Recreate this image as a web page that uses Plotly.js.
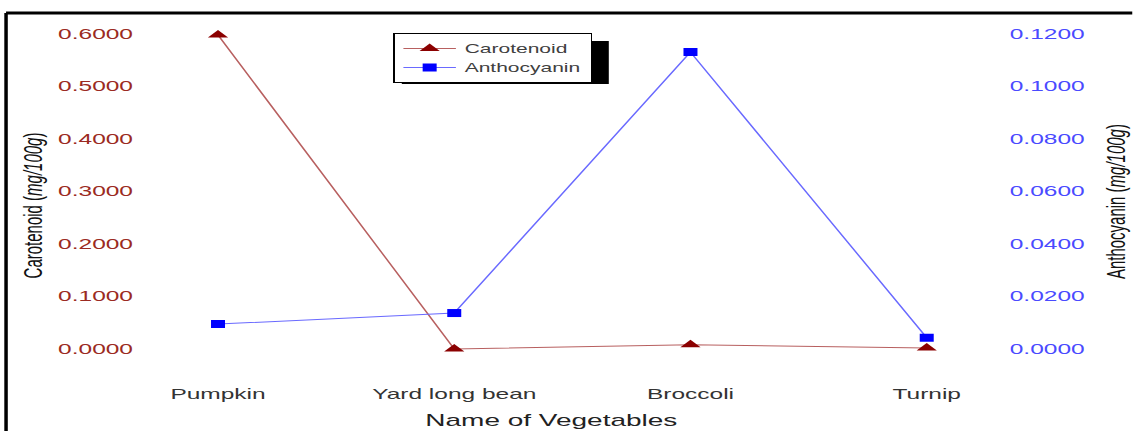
<!DOCTYPE html>
<html>
<head>
<meta charset="utf-8">
<script src="https://cdn.plot.ly/plotly-3.0.1.min.js"></script>
<style>
html,body{margin:0;padding:0;background:#fff;overflow:hidden;width:1133px;height:431px;}
#chart{width:647px;height:431px;transform:scaleX(1.75);transform-origin:0 0;}
</style>
</head>
<body>
<div id="chart"></div>
<script>
const categories = ["Pumpkin", "Yard long bean", "Broccoli", "Turnip"];
const carotenoid = [0.598, 0.000, 0.008, 0.002];
const anthocyanin = [0.0095, 0.0137, 0.1131, 0.0043];
const leftTicks = [0, 0.1, 0.2, 0.3, 0.4, 0.5, 0.6];
const rightTicks = [0, 0.02, 0.04, 0.06, 0.08, 0.10, 0.12];

const xIdx = categories.map((c, i) => i);

const traces = [
  {
    x: xIdx, y: carotenoid, name: "Carotenoid", type: "scatter", mode: "lines+markers",
    line: {color: "#b86060", width: 1},
    marker: {symbol: "triangle-up", size: 10, color: "#8b0000"},
    yaxis: "y"
  },
  {
    x: xIdx, y: anthocyanin, name: "Anthocyanin", type: "scatter", mode: "lines+markers",
    line: {color: "#6a6aff", width: 1},
    marker: {symbol: "square", size: 8, color: "#0000ff"},
    yaxis: "y2"
  }
];

const font = "Liberation Sans, Arial, sans-serif";

const layout = {
  width: 647, height: 431,
  margin: {l: 83, r: 76, t: 20, b: 61},
  paper_bgcolor: "#ffffff", plot_bgcolor: "rgba(0,0,0,0)",
  showlegend: true,
  legend: {
    x: 0.29, y: 0.963, xanchor: "left", yanchor: "top",
    bgcolor: "#ffffff", bordercolor: "#000000", borderwidth: 1,
    font: {family: font, size: 12, color: "#404040"},
    tracegroupgap: 0, itemwidth: 30
  },
  xaxis: {
    range: [-0.308, 3.307],
    tickvals: xIdx, ticktext: categories,
    showgrid: false, zeroline: false, showline: false,
    ticks: "", ticklabelstandoff: 14,
    tickfont: {family: font, size: 14, color: "#333333"}
  },
  yaxis: {
    range: [-0.04, 0.6267],
    tickvals: leftTicks, tickformat: ".4f",
    showgrid: false, zeroline: false, showline: false, ticks: "",
    ticklabelstandoff: 6,
    tickfont: {family: font, size: 14, color: "#9b2a22"}
  },
  yaxis2: {
    range: [-0.008, 0.12533],
    tickvals: rightTicks, tickformat: ".4f",
    overlaying: "y", side: "right",
    showgrid: false, zeroline: false, showline: false, ticks: "",
    ticklabelstandoff: 5,
    tickfont: {family: font, size: 14, color: "#4a4aff"}
  },
  annotations: [
    {text: "Carotenoid (<i>mg/100g</i>)", xref: "paper", yref: "paper", x: -0.1326, y: 0.471,
     xanchor: "center", yanchor: "middle",
     textangle: -90, showarrow: false, font: {family: font, size: 15, color: "#111111"}},
    {text: "Anthocyanin (<i>mg/100g</i>)", xref: "paper", yref: "paper", x: 1.1355, y: 0.48,
     xanchor: "center", yanchor: "middle",
     textangle: -90, showarrow: false, font: {family: font, size: 15, color: "#111111"}},
    {text: "Name of Vegetables", xref: "paper", yref: "paper", x: 0.4763, y: -0.143,
     xanchor: "center", yanchor: "middle",
     showarrow: false, font: {family: font, size: 16, color: "#222222"}}
  ],
  shapes: [
    {type: "rect", xref: "paper", yref: "paper", x0: 0.3004, x1: 0.5428, y0: 0.817, y1: 0.94,
     fillcolor: "#000000", line: {width: 0}, layer: "above"},
    {type: "line", xref: "paper", yref: "paper", x0: -0.163, x1: 1.2, y0: 1.02, y1: 1.02,
     line: {color: "#000000", width: 3}},
    {type: "line", xref: "paper", yref: "paper", x0: -0.163, x1: -0.163, y0: 1.02, y1: -0.3,
     line: {color: "#000000", width: 2}}
  ]
};

Plotly.newPlot("chart", traces, layout, {displayModeBar: false, staticPlot: true});
</script>
</body>
</html>
